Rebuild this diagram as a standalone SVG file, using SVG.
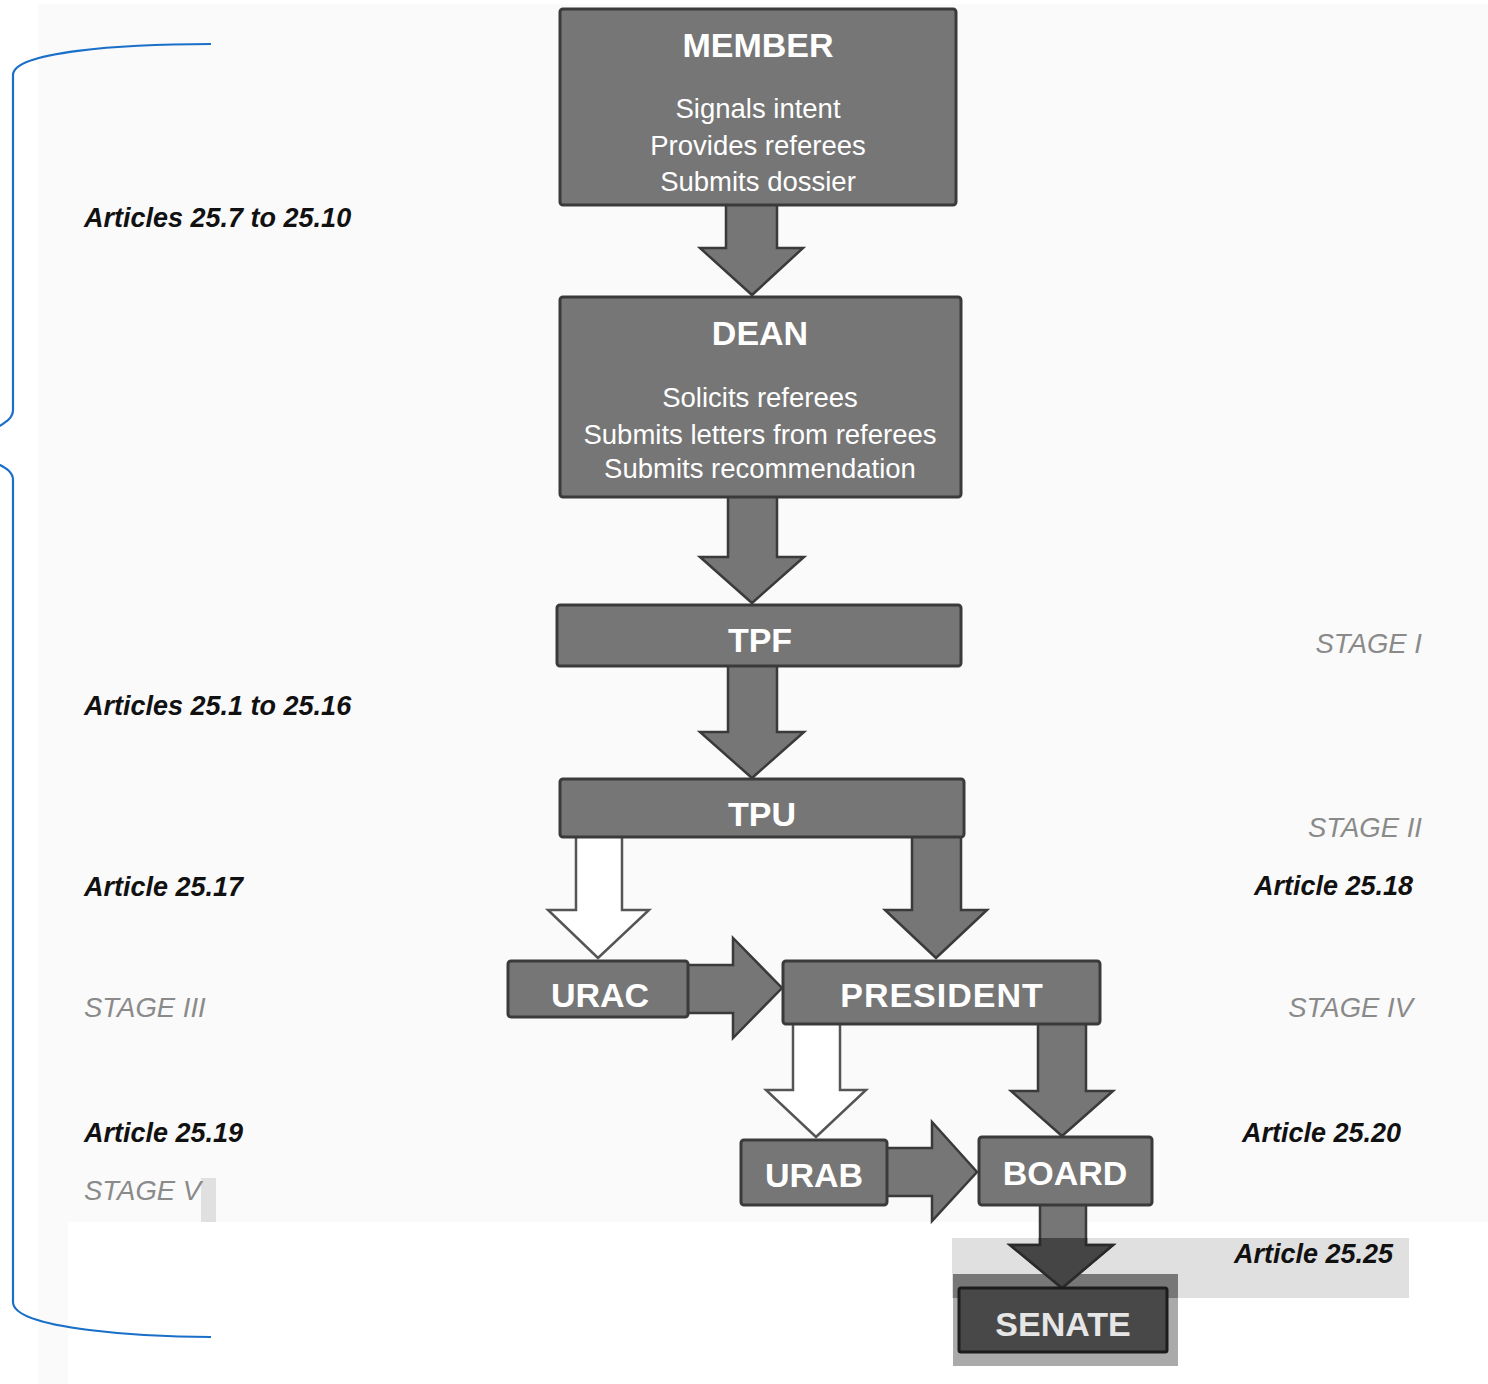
<svg xmlns="http://www.w3.org/2000/svg" width="1488" height="1384" viewBox="0 0 1488 1384">
<style>
.box{fill:#767676;stroke:#3a3a3a;stroke-width:3}
.ttl{font-family:"Liberation Sans",Arial,sans-serif;font-weight:bold;font-size:34px;fill:#ffffff;text-anchor:middle}
.body{font-family:"Liberation Sans",Arial,sans-serif;font-size:27.5px;fill:#ffffff;text-anchor:middle}
.art{font-family:"Liberation Sans",Arial,sans-serif;font-weight:bold;font-style:italic;font-size:27px;fill:#111111}
.stg{font-family:"Liberation Sans",Arial,sans-serif;font-style:italic;font-size:27.5px;fill:#8a8a8a}
.arw{fill:#767676;stroke:#3a3a3a;stroke-width:2.5;stroke-linejoin:miter}
.open{fill:#ffffff;stroke:#555555;stroke-width:2.5}
.brace{fill:none;stroke:#1a6fc9;stroke-width:2.2}
</style>
<defs>
<clipPath id="bandclip"><rect x="952" y="1238" width="460" height="130"/></clipPath>
</defs>
<rect x="0" y="0" width="1488" height="1384" fill="#ffffff"/>
<rect x="38" y="4" width="1450" height="1218" fill="#fafafa"/>
<rect x="38" y="1222" width="30" height="162" fill="#fafafa"/>
<rect x="201" y="1178" width="15" height="44" fill="#e0e0e0"/>
<rect x="952" y="1238" width="457" height="60" fill="#e0e0e0"/>
<rect x="953" y="1274" width="225" height="92" fill="#aaaaaa"/>
<rect x="953" y="1274" width="225" height="24" fill="#777777"/>

<g id="brace">
<path class="brace" d="M211,44 C120,44 13,52 13,75 V410 C13,418 6,422 -2,427"/>
<path class="brace" d="M-2,464 C6,468 13,472 13,480 V1302 C13,1330 150,1337 211,1337"/>
</g>

<g id="connectors">
<path class="arw" d="M726,205 V248 H700 L752,295 L803,248 H777 V205"/>
<path class="arw" d="M728,498 V557 H700 L752,603 L804,557 H777 V498"/>
<path class="arw" d="M728,666 V732 H700 L752,778 L804,732 H777 V666"/>
<path class="open" d="M576,837 V910 H548 L598,958 L649,910 H622 V837"/>
<path class="arw" d="M912,837 V910 H885 L936,958 L987,910 H961 V837"/>
<path class="arw" d="M688,965 H733 V938 L782,988 L733,1038 V1013 H688"/>
<path class="open" d="M793,1024 V1090 H766 L816,1137 L866,1090 H840 V1024"/>
<path class="arw" d="M1038,1024 V1091 H1011 L1062,1136 L1113,1091 H1086 V1024"/>
<path class="arw" d="M887,1148 H932 V1122 L977,1172 L932,1221 V1196 H887"/>
<path class="arw" d="M1040,1205 V1245 H1010 L1062,1288 L1113,1245 H1086 V1205"/>
<path d="M1040,1205 V1245 H1010 L1062,1288 L1113,1245 H1086 V1205" fill="#454545" stroke="#2a2a2a" stroke-width="2.5" clip-path="url(#bandclip)"/>
</g>

<g id="member">
<rect class="box" x="560" y="9" width="396" height="196" rx="3"/>
<text class="ttl" x="758" y="57">MEMBER</text>
<text class="body" x="758" y="118">Signals intent</text>
<text class="body" x="758" y="155">Provides referees</text>
<text class="body" x="758" y="191">Submits dossier</text>
</g>
<g id="dean">
<rect class="box" x="560" y="297" width="401" height="200" rx="3"/>
<text class="ttl" x="760" y="345">DEAN</text>
<text class="body" x="760" y="407">Solicits referees</text>
<text class="body" x="760" y="444">Submits letters from referees</text>
<text class="body" x="760" y="478">Submits recommendation</text>
</g>
<g id="tpf">
<rect class="box" x="557" y="605" width="404" height="61" rx="3"/>
<text class="ttl" x="760" y="652">TPF</text>
</g>
<g id="tpu">
<rect class="box" x="560" y="779" width="404" height="58" rx="3"/>
<text class="ttl" x="762" y="826">TPU</text>
</g>
<g id="urac">
<rect class="box" x="508" y="961" width="180" height="56" rx="3"/>
<text class="ttl" x="600" y="1007">URAC</text>
</g>
<g id="president">
<rect class="box" x="783" y="961" width="317" height="63" rx="3"/>
<text class="ttl" x="942" y="1007" style="letter-spacing:1px">PRESIDENT</text>
</g>
<g id="urab">
<rect class="box" x="741" y="1140" width="146" height="65" rx="3"/>
<text class="ttl" x="814" y="1187">URAB</text>
</g>
<g id="board">
<rect class="box" x="979" y="1137" width="173" height="68" rx="3"/>
<text class="ttl" x="1065" y="1185">BOARD</text>
</g>
<g id="senate">
<rect x="959" y="1288" width="208" height="64" rx="2" fill="#484848" stroke="#1c1c1c" stroke-width="3"/>
<text class="ttl" x="1063" y="1336" style="fill:#e6e6e6">SENATE</text>
</g>

<g id="labels">
<text class="art" x="84" y="227">Articles 25.7 to 25.10</text>
<text class="art" x="84" y="715">Articles 25.1 to 25.16</text>
<text class="art" x="84" y="896">Article 25.17</text>
<text class="stg" x="84" y="1017">STAGE III</text>
<text class="art" x="84" y="1142">Article 25.19</text>
<text class="stg" x="84" y="1200">STAGE V</text>
<text class="stg" x="1422" y="653" text-anchor="end">STAGE I</text>
<text class="stg" x="1422" y="837" text-anchor="end">STAGE II</text>
<text class="art" x="1413" y="895" text-anchor="end">Article 25.18</text>
<text class="stg" x="1413" y="1017" text-anchor="end">STAGE IV</text>
<text class="art" x="1401" y="1142" text-anchor="end">Article 25.20</text>
<text class="art" x="1393" y="1263" text-anchor="end">Article 25.25</text>
</g>
</svg>
